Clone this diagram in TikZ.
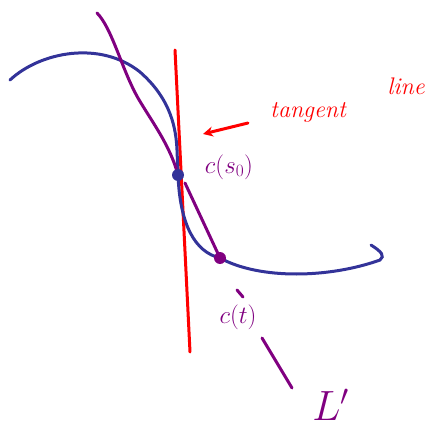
\documentclass[tikz,border=0pt]{standalone}
\usetikzlibrary{arrows.meta}
\definecolor{cblue}{HTML}{333399}
\definecolor{cpurple}{HTML}{800080}
\definecolor{cred}{HTML}{FF0000}
\begin{document}
\begin{tikzpicture}[x=1pt,y=-1pt,
  bluecurve/.style={draw=cblue,line width=3pt,line cap=round},
  purpleline/.style={draw=cpurple,line width=3pt,line cap=round},
  redline/.style={draw=cred,line width=3pt,line cap=round},
  dot/.style={circle,inner sep=0pt,minimum size=#1},
  lbl/.style={font=\itshape\fontsize{24}{24}\selectfont,inner sep=0pt}]
\useasboundingbox (0,0) rectangle (429,428);
\coordinate (c0) at (178,175);
\coordinate (ct) at (220,258);
% tangent line
\coordinate (t1) at (175,50); \coordinate (t2) at (190,352);
\draw[redline] (t1) -- (t2);
% blue curve
\draw[bluecurve] (10,80) .. controls (40,52) and (100,40) .. (140,72)
  .. controls (172,100) and (176,130) .. (177,150) -- (c0)
  .. controls (180,225) and (195,252) .. (ct)
  .. controls (260,280) and (330,278) .. (380,260)
  .. controls (385,256) and (382,252) .. (371,245);
% secant line L'
\coordinate (s0) at (97,13);
\draw[purpleline] (s0) .. controls (112,28) and (122,70) .. (138,98)
  .. controls (152,122) and (170,145) .. (c0);
\coordinate (s1) at (185,183);
\draw[purpleline] (s1) -- (ct);
\coordinate (d1a) at (237,290); \coordinate (d1b) at (243,297);
\draw[purpleline] (d1a) -- (d1b);
\coordinate (d2a) at (262,338); \coordinate (d2b) at (292,388);
\draw[purpleline] (d2a) -- (d2b);
% arrow
\coordinate (a1) at (248,123); \coordinate (a2) at (203,134);
\draw[redline,-{Stealth[length=10pt,width=10pt]}] (a1) -- (a2);
% points
\node[dot=12pt,fill=cblue] (p0) at (c0) {};
\node[dot=12pt,fill=cpurple] (pt) at (ct) {};
% labels
\node[lbl,text=cred] (tg) at (308,112) {tangent};
\node[lbl,text=cred] (ln) at (406,86) {line};
\node[lbl,text=cpurple] (lc0) at (229,167) {$c(s_0)$};
\node[lbl,text=cpurple] (lct) at (238,317) {$c(t)$};
\node[text=cpurple,font=\fontsize{24}{24}\selectfont,inner sep=0pt,scale=1.7] (lL) at (331,405) {$L'$};
\end{tikzpicture}
\end{document}
